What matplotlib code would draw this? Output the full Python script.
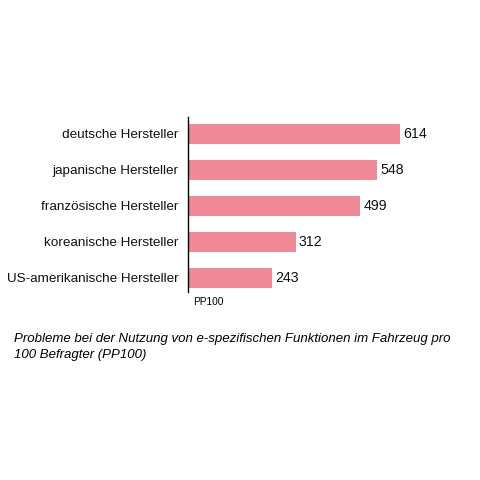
import matplotlib.pyplot as plt

plt.rcParams['font.family'] = ['Liberation Sans', 'DejaVu Sans']

categories = ['deutsche Hersteller', 'japanische Hersteller', 'französische Hersteller',
              'koreanische Hersteller', 'US-amerikanische Hersteller']
values = [614, 548, 499, 312, 243]

fig = plt.figure(figsize=(4.8, 4.8), dpi=100)
ax = fig.add_axes([188 / 480, 1 - 292 / 480, 276 / 480, 175 / 480])

pos = list(range(len(categories)))
ax.barh(pos, values, height=0.56, color='#f08a98')
for p, v in zip(pos, values):
    ax.text(v + 9, p, str(v), va='center', ha='left', fontsize=10.2, color='#111111')

ax.set_ylim(4.39, -0.47)
ax.set_xlim(0, 800)
ax.set_yticks(pos)
ax.set_yticklabels(categories, fontsize=9.7, color='#111111')
ax.tick_params(axis='y', length=0, pad=7)
ax.set_xticks([])
for s in ['top', 'right', 'bottom']:
    ax.spines[s].set_visible(False)
ax.spines['left'].set_linewidth(1.0)

fig.text(193 / 480, 1 - 302 / 480, 'PP100', fontsize=7.3, va='center', ha='left')
fig.text(14 / 480, 1 - 347 / 480,
         'Probleme bei der Nutzung von e-spezifischen Funktionen im Fahrzeug pro\n100 Befragter (PP100)',
         fontsize=9.5, style='italic', va='center', ha='left', linespacing=1.4)

fig.savefig('out.png', dpi=100)
